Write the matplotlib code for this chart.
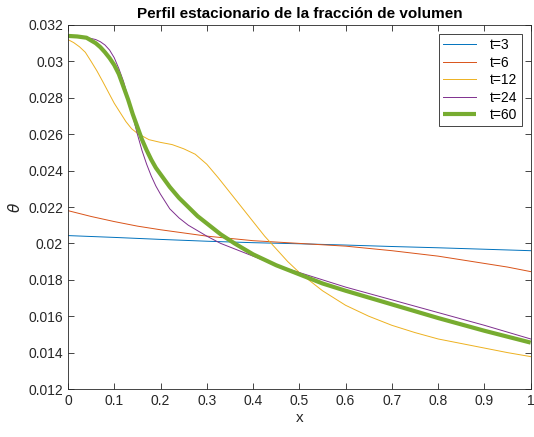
import matplotlib.pyplot as plt

# Values
x3 = [0, 0.1, 0.2, 0.3, 0.4, 0.5, 0.6, 0.7, 0.8, 0.9, 1.0]
t3 = [0.02043, 0.02033, 0.02022, 0.02012, 0.02004, 0.01998, 0.01991, 0.01983, 0.01976, 0.01968, 0.01960]

x6 = [0, 0.05, 0.1, 0.15, 0.2, 0.3, 0.4, 0.5, 0.6, 0.7, 0.8, 0.85, 0.9, 0.95, 1.0]
t6 = [0.0218, 0.02148, 0.0212, 0.02095, 0.02075, 0.0204, 0.02015, 0.0200, 0.01985,
      0.0196, 0.0193, 0.0191, 0.0189, 0.0187, 0.01845]

x12 = [0, 0.0125, 0.025, 0.0375, 0.05, 0.0625, 0.075, 0.0875, 0.1, 0.1125, 0.125, 0.1375,
       0.15, 0.175, 0.2, 0.225, 0.25, 0.275, 0.3, 0.325, 0.35, 0.375, 0.4, 0.425, 0.45,
       0.475, 0.5, 0.525, 0.55, 0.575, 0.6, 0.65, 0.7, 0.75, 0.8, 0.85, 0.9, 0.95, 1.0]
t12 = [0.0312, 0.03103, 0.0308, 0.0305, 0.0300, 0.02948, 0.0289, 0.0283, 0.0277, 0.0272,
       0.0267, 0.0263, 0.02605, 0.0257, 0.02555, 0.02543, 0.0252, 0.0249, 0.02435, 0.0236,
       0.0228, 0.0220, 0.0212, 0.0204, 0.0197, 0.0190, 0.0184, 0.0179, 0.0174, 0.0170,
       0.0166, 0.0160, 0.0155, 0.0151, 0.01475, 0.0145, 0.01425, 0.0140, 0.01378]

x24 = [0, 0.02, 0.04, 0.06, 0.07, 0.08, 0.09, 0.1, 0.11, 0.12, 0.13, 0.14, 0.15, 0.16,
       0.17, 0.18, 0.19, 0.2, 0.22, 0.24, 0.26, 0.28, 0.3, 0.33, 0.36, 0.4, 0.45, 0.5,
       0.55, 0.6, 0.7, 0.8, 0.9, 1.0]
t24 = [0.0314, 0.03138, 0.03132, 0.0312, 0.03108, 0.0309, 0.03062, 0.0302, 0.0296,
       0.0289, 0.0280, 0.0270, 0.0260, 0.0251, 0.02435, 0.0237, 0.02315, 0.0227, 0.0219,
       0.0214, 0.0210, 0.0207, 0.0204, 0.0200, 0.0197, 0.0193, 0.0188, 0.0184, 0.0180,
       0.0176, 0.0169, 0.0162, 0.0155, 0.01475]

x60 = [0, 0.02, 0.04, 0.06, 0.07, 0.08, 0.09, 0.1, 0.11, 0.12, 0.13, 0.14, 0.15, 0.16,
       0.17, 0.18, 0.19, 0.2, 0.22, 0.24, 0.26, 0.28, 0.3, 0.33, 0.36, 0.4, 0.45, 0.5,
       0.55, 0.6, 0.7, 0.8, 0.9, 1.0]
t60 = [0.0314, 0.03137, 0.0313, 0.0310, 0.03078, 0.0305, 0.03018, 0.0298, 0.0293,
       0.0286, 0.0279, 0.0271, 0.0264, 0.0257, 0.02512, 0.0246, 0.02415, 0.0238, 0.0231,
       0.0225, 0.0220, 0.0215, 0.0211, 0.0205, 0.0200, 0.0194, 0.0188, 0.0183, 0.0178,
       0.0174, 0.01665, 0.0159, 0.0152, 0.01455]

labels = ["t=3", "t=6", "t=12", "t=24", "t=60"]

plt.rcParams["font.family"] = ["Liberation Sans", "DejaVu Sans"]

fig = plt.figure(figsize=(5.34, 4.37), dpi=100)
ax = fig.add_axes([0.1273, 0.1098, 0.8665, 0.833])

ax.plot(x3, t3, color="#0072BD", lw=0.7, label=labels[0])
ax.plot(x6, t6, color="#D95319", lw=0.7, label=labels[1])
ax.plot(x12, t12, color="#EDB120", lw=0.7, label=labels[2])
ax.plot(x24, t24, color="#7E2F8E", lw=0.7, label=labels[3])
ax.plot(x60, t60, color="#77AC30", lw=3, label=labels[4], solid_capstyle="butt")

ax.set_xlim(0, 1)
ax.set_ylim(0.012, 0.032)
ax.set_xticks([0, 0.1, 0.2, 0.3, 0.4, 0.5, 0.6, 0.7, 0.8, 0.9, 1])
ax.set_xticklabels(["0", "0.1", "0.2", "0.3", "0.4", "0.5", "0.6", "0.7", "0.8", "0.9", "1"])
yt = [0.012, 0.014, 0.016, 0.018, 0.02, 0.022, 0.024, 0.026, 0.028, 0.03, 0.032]
ax.set_yticks(yt)
ax.set_yticklabels(["0.012", "0.014", "0.016", "0.018", "0.02", "0.022", "0.024",
                    "0.026", "0.028", "0.03", "0.032"])

ax.tick_params(direction="in", top=True, right=True, length=4, width=0.6,
               labelsize=10, colors="#262626")
for s in ax.spines.values():
    s.set_color("#262626")
    s.set_linewidth(0.6)

ax.set_xlabel("x", fontsize=11, color="#262626", labelpad=2)
ax.set_ylabel(r"$\theta$", fontsize=11, color="#262626", labelpad=4)
ax.set_title("Perfil estacionario de la fracción de volumen", fontsize=11,
             fontweight="bold", pad=5)

leg = ax.legend(loc="upper right", fontsize=10, fancybox=False, framealpha=1,
                edgecolor="#262626", handlelength=2.4, borderaxespad=0.65,
                borderpad=0.3, labelspacing=0.25, handletextpad=1.0)
leg.get_frame().set_linewidth(0.6)

fig.savefig("out.png", dpi=100)
